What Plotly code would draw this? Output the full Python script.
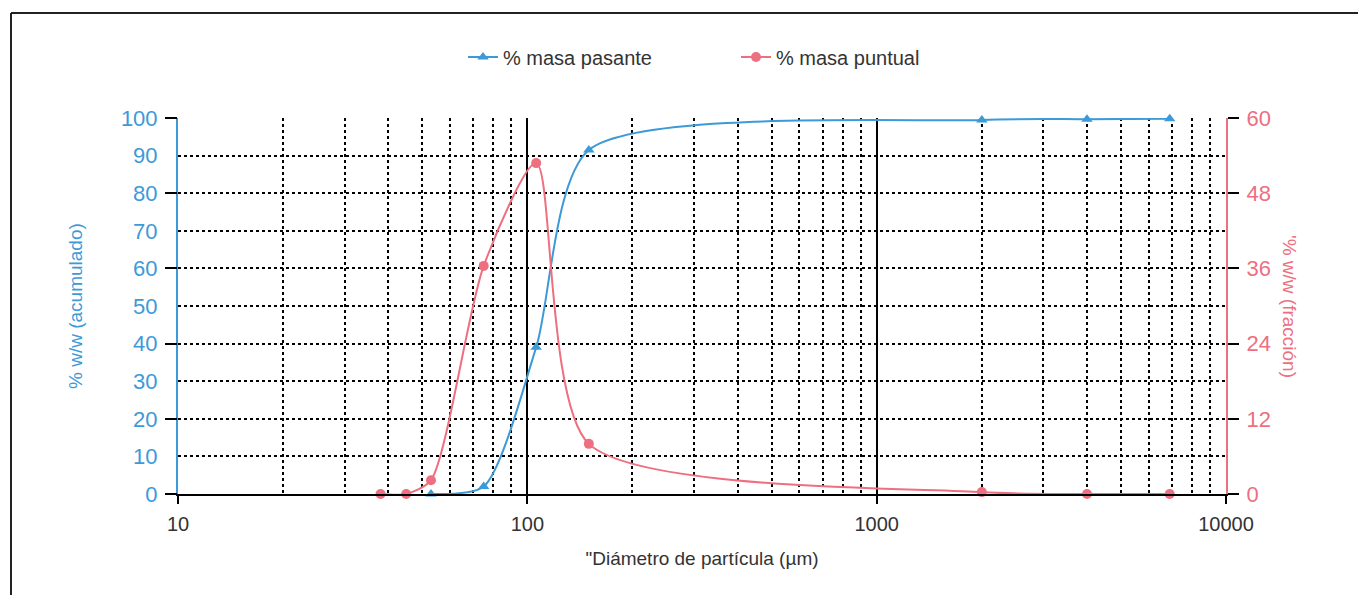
import plotly.graph_objects as go

# Data
diam_pasante = [53, 75, 106, 150, 2000, 4000, 6900]
pct_pasante = [0, 2, 39, 91.5, 99.5, 99.7, 99.8]

diam_puntual = [38, 45, 53, 75, 106, 150, 2000, 4000, 6900]
pct_puntual = [0, 0, 2.2, 36.4, 52.8, 8.0, 0.3, 0, 0]

x_ticks = [10, 100, 1000, 10000]
x_minor = [v * m for v in (10, 100, 1000) for m in range(2, 10)]
y_left_ticks = list(range(0, 101, 10))
y_right_ticks = list(range(0, 61, 12))

BLUE = "#3d9ad8"
RED = "#ee6f80"
FONT = "Liberation Sans"

W, H = 1358, 587
L, R, T, B = 170, 140, 110, 101
PW, PH = W - L - R, H - T - B


def px_x(p):
    return (p - L) / PW


def px_y(p):
    return 1 - (p - T) / PH


fig = go.Figure()
fig.add_trace(go.Scatter(
    x=diam_pasante, y=pct_pasante, name="% masa pasante",
    mode="lines+markers", line=dict(color=BLUE, width=2, shape="spline", smoothing=0.7),
    marker=dict(symbol="triangle-up", size=10, color=BLUE),
    cliponaxis=False, yaxis="y"))
fig.add_trace(go.Scatter(
    x=diam_puntual, y=pct_puntual, name="% masa puntual",
    mode="lines+markers", line=dict(color=RED, width=2, shape="spline", smoothing=0.7),
    marker=dict(symbol="circle", size=10, color=RED),
    cliponaxis=False, yaxis="y2"))

fig.update_layout(
    width=W, height=H,
    margin=dict(l=L, r=R, t=T, b=B),
    paper_bgcolor="white", plot_bgcolor="white",
    font=dict(family=FONT, size=14, color="#333"),
    showlegend=True,
    legend=dict(orientation="h", x=px_x(455), y=px_y(49), xref="paper", yref="paper",
                xanchor="left", yanchor="middle", font=dict(size=20, color="#333"),
                entrywidth=228, entrywidthmode="pixels", traceorder="normal"),
    xaxis=dict(type="log", range=[1, 4], tickvals=x_ticks, ticktext=[str(v) for v in x_ticks],
               showgrid=True, gridcolor="black", gridwidth=1.5,
               showline=True, linecolor="black", linewidth=2,
               ticks="outside", ticklen=8, tickcolor="black", tickwidth=2,
               tickfont=dict(size=20, color="#333"), ticklabelstandoff=3,
               minor=dict(tickvals=x_minor, showgrid=True, gridcolor="black",
                          gridwidth=1.8, griddash="dot", ticks=""),
               zeroline=False,
               title=dict(text="\"Diámetro de partícula (µm)", font=dict(size=19, color="#333"), standoff=18)),
    yaxis=dict(range=[0, 100], tickvals=y_left_ticks, showgrid=True, gridcolor="black",
               gridwidth=1.8, griddash="dot", showline=True, linecolor=BLUE, linewidth=2,
               ticks="", tickfont=dict(size=22, color=BLUE), zeroline=False, ticklabelstandoff=14),
    yaxis2=dict(range=[0, 60], tickvals=y_right_ticks, overlaying="y", side="right",
                showgrid=False, showline=True, linecolor=RED, linewidth=2,
                ticks="outside", ticklen=11, tickcolor="black", tickwidth=2,
                tickfont=dict(size=22, color=RED), zeroline=False, ticklabelstandoff=3),
    yaxis3=dict(range=[0, 100], tickvals=list(range(0, 101, 20)), overlaying="y", side="left",
                showgrid=False, showline=False, ticks="outside", ticklen=12,
                tickcolor="black", tickwidth=2, showticklabels=False, zeroline=False),
)

# dummy trace to activate yaxis3
fig.add_trace(go.Scatter(x=[10], y=[0], yaxis="y3", mode="markers",
                         marker=dict(opacity=0), showlegend=False, hoverinfo="skip"))

fig.add_annotation(text="% w/w (acumulado)", xref="paper", yref="paper",
                   x=px_x(67), y=0.5, xanchor="center", yanchor="middle",
                   showarrow=False, textangle=-90, font=dict(size=19, color=BLUE))
fig.add_annotation(text="'% w/w (fracción)", xref="paper", yref="paper",
                   x=px_x(1282), y=0.5, xanchor="center", yanchor="middle",
                   showarrow=False, textangle=90, font=dict(size=19, color=RED))

# outer frame (top and left edges)
fig.add_shape(type="line", xref="paper", yref="paper", x0=px_x(3), x1=px_x(1352),
              y0=px_y(5), y1=px_y(5), line=dict(color="#222", width=2))
fig.add_shape(type="line", xref="paper", yref="paper", x0=px_x(3), x1=px_x(3),
              y0=px_y(5), y1=px_y(H + 5), line=dict(color="#222", width=2))

fig.write_html("out.html")
